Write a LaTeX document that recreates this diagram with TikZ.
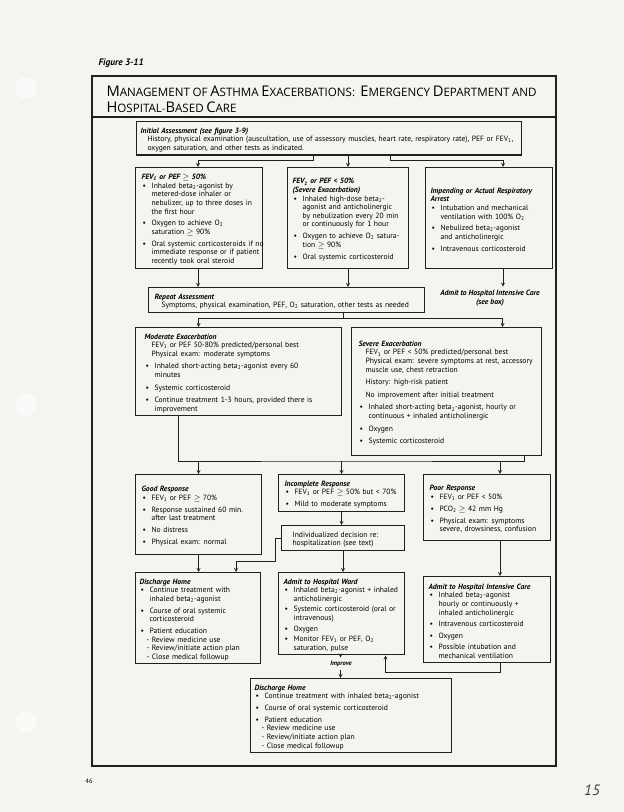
\documentclass[tikz,border=0pt]{standalone}
\usepackage{fontspec}
\setmainfont{PT Sans}
\newfontfamily\titlefont{Open Sans}
\usetikzlibrary{arrows, positioning}

\definecolor{paper}{RGB}{246,244,241}
\definecolor{ink}{RGB}{32,32,32}

\newcommand{\boxfont}{\fontsize{7.6}{8.6}\selectfont}
\newcommand{\lo}[1]{\textsubscript{#1}}
\newcommand{\rr}{\rightskip=-40pt plus 1fil}
\newcommand{\hd}[1]{\par\leftskip=0pt\rr{\bfseries\itshape #1}\par}
\newcommand{\bl}[1][3.2pt]{\par\vspace{#1}\leftskip=10pt\rr\noindent\hskip-10pt\hbox to 10pt{\hskip1pt\textbullet\hfil}\ignorespaces}
\newcommand{\ind}[1][0pt]{\par\vspace{#1}\leftskip=7pt\rr\noindent\ignorespaces}
\newcommand{\dsh}{\par\leftskip=7pt\rr\noindent-\ }
\newcommand{\scw}[2]{{\titlefont\fontsize{14.7}{16}\selectfont #1}{\titlefont\fontsize{11.6}{16}\selectfont #2}}

\begin{document}
\begin{tikzpicture}[
    x=1pt, y=-1pt,
    box/.style={draw=ink, line width=1.1pt, fill=paper, anchor=north west, align=left,
                inner xsep=6pt, inner ysep=3pt, font=\boxfont},
    arrow/.style={draw=ink, line width=0.8pt, ->, >=stealth},
    link/.style={draw=ink, line width=0.8pt},
    lbl/.style={font=\boxfont\bfseries\itshape, align=center}
]

% Page and frame
\fill[paper] (0,0) rectangle (624,812);
\useasboundingbox (0,0) rectangle (624,812);
\foreach \hy in {88, 405, 722}
    \fill[white!55!paper] (26,\hy) circle (11);
\draw[ink, line width=2.2pt] (92,76) rectangle (556,766);
\draw[ink, line width=1.8pt] (92,117) -- (556,117);

\node[anchor=west, font=\fontsize{9.4}{11}\selectfont\bfseries\itshape] (fig) at (95,63) {Figure 3-11};
\node[anchor=base west] (title1) at (103,96) {\scw{M}{ANAGEMENT} \scw{}{OF} \scw{A}{STHMA} \scw{E}{XACERBATIONS:}\ \ \scw{E}{MERGENCY} \scw{D}{EPARTMENT} \scw{}{AND}};
\node[anchor=base west] (title2) at (103,112) {\scw{H}{OSPITAL}-\scw{B}{ASED} \scw{C}{ARE}};
\node[font=\fontsize{6.5}{8}\selectfont] (pgno) at (89,781) {46};
\node[font=\fontsize{15}{16}\selectfont\itshape, text=black!75] (hand) at (592,790) {15};

% Initial assessment
\node[box, inner xsep=4pt, text width=377pt, minimum height=29pt] (init) at (136,121) {%
\hd{Initial Assessment (see figure 3-9)}
\ind History, physical examination (auscultation, use of assessory muscles, heart rate, respiratory rate), PEF or FEV\lo{1},\\
oxygen saturation, and other tests as indicated.\par};

% First treatment row
\node[box, text width=115pt, minimum height=101pt] (mild) at (135,167) {%
\hd{FEV\lo{1} or PEF $\geq$ 50\%}
\bl[0pt] Inhaled beta\lo{2}-agonist by\\ metered-dose inhaler or\\ nebulizer, up to three doses in\\ the first hour
\bl Oxygen to achieve O\lo{2}\\ saturation $\geq$ 90\%
\bl Oral systemic corticosteroids if no\\ immediate response or if patient\\ recently took oral steroid\par};

\node[box, inner xsep=5pt, text width=111pt, minimum height=101pt] (sev1) at (287,167) {%
\hd{FEV\lo{1} or PEF < 50\%\\ (Severe Exacerbation)}
\bl[0pt] Inhaled high-dose beta\lo{2}-\\ agonist and anticholinergic\\ by nebulization every 20 min\\ or continuously for 1 hour
\bl Oxygen to achieve O\lo{2} satura-\\ tion $\geq$ 90\%
\bl Oral systemic corticosteroid\par\vspace{4pt}};

\node[box, inner xsep=5pt, text width=117pt, minimum height=101pt] (arrest) at (425,167) {%
\hd{Impending or Actual Respiratory\\ Arrest}
\bl[0pt] Intubation and mechanical\\ ventilation with 100\% O\lo{2}
\bl Nebulized beta\lo{2}-agonist\\ and anticholinergic
\bl Intravenous corticosteroid\par\vspace{18pt}};

% Repeat assessment
\node[box, text width=264pt, minimum height=23pt] (repeat) at (148,287) {%
\hd{Repeat Assessment}
\ind Symptoms, physical examination, PEF, O\lo{2} saturation, other tests as needed\par};
\node[lbl] (icutxt) at (490,298) {Admit to Hospital Intensive Care\\ (see box)};

% Exacerbation level
\node[box, inner xsep=9pt, text width=188pt, minimum height=87pt] (moderate) at (135,327) {%
\hd{Moderate Exacerbation}
\ind FEV\lo{1} or PEF 50-80\% predicted/personal best\\ Physical exam: moderate symptoms
\bl[4pt] Inhaled short-acting beta\lo{2}-agonist every 60\\ minutes
\bl[4pt] Systemic corticosteroid
\bl[4pt] Continue treatment 1-3 hours, provided there is\\ improvement\par\vspace{8pt}};

\node[box, inner xsep=7pt, text width=176pt, minimum height=128pt] (severe) at (351,327) {%
\hd{Severe Exacerbation}
\ind FEV\lo{1} or PEF < 50\% predicted/personal best\\ Physical exam: severe symptoms at rest, accessory\\ muscle use, chest retraction
\ind[4pt] History: high-risk patient
\ind[4pt] No improvement after initial treatment
\bl[4pt] Inhaled short-acting beta\lo{2}-agonist, hourly or\\ continuous + inhaled anticholinergic
\bl[4pt] Oxygen
\bl[4pt] Systemic corticosteroid\par};

% Response row
\node[box, text width=114pt, minimum height=80pt] (good) at (135,474) {%
\hd{Good Response}
\bl[0pt] FEV\lo{1} or PEF $\geq$ 70\%
\bl Response sustained 60 min.\\ after last treatment
\bl No distress
\bl Physical exam: normal\par};

\node[box, text width=114pt, minimum height=30pt] (partial) at (278,474) {%
\hd{Incomplete Response}
\bl[0pt] FEV\lo{1} or PEF $\geq$ 50\% but < 70\%
\bl Mild to moderate symptoms\par};

\node[box, inner xsep=4pt, text width=115pt, minimum height=22pt] (decide) at (281,525) {%
\ind Individualized decision re:\\ hospitalization (see text)\par};

\node[box, text width=115pt, minimum height=66pt] (poor) at (423,474) {%
\hd{Poor Response}
\bl[0pt] FEV\lo{1} or PEF < 50\%
\bl PCO\lo{2} $\geq$ 42 mm Hg
\bl Physical exam: symptoms\\ severe, drowsiness, confusion\par};

% Disposition row
\node[box, inner xsep=4pt, text width=117pt, minimum height=90pt] (home) at (135,572) {%
\hd{Discharge Home}
\bl[0pt] Continue treatment with\\ inhaled beta\lo{2}-agonist
\bl Course of oral systemic\\ corticosteroid
\bl Patient education
\dsh Review medicine use
\dsh Review/initiate action plan
\dsh Close medical followup\par};

\node[box, inner xsep=5pt, text width=116pt, minimum height=76pt] (ward) at (278,572) {%
\hd{Admit to Hospital Ward}
\bl[0pt] Inhaled beta\lo{2}-agonist + inhaled\\ anticholinergic
\bl[2pt] Systemic corticosteroid (oral or\\ intravenous)
\bl[2pt] Oxygen
\bl[2pt] Monitor FEV\lo{1} or PEF, O\lo{2}\\ saturation, pulse\par};

\node[box, inner xsep=5pt, text width=117pt, minimum height=86pt] (icu) at (423,576) {%
\hd{Admit to Hospital Intensive Care}
\bl[0pt] Inhaled beta\lo{2}-agonist\\ hourly or continuously +\\ inhaled anticholinergic
\bl[3pt] Intravenous corticosteroid
\bl[3pt] Oxygen
\bl[3pt] Possible intubation and\\ mechanical ventilation\par};

\node[lbl, font=\fontsize{6.5}{7}\selectfont\bfseries\itshape] (improve) at (341,664) {Improve};

\node[box, inner xsep=4pt, text width=193pt, minimum height=74pt] (final) at (250,678) {%
\hd{Discharge Home}
\bl[0pt] Continue treatment with inhaled beta\lo{2}-agonist
\bl Course of oral systemic corticosteroid
\bl Patient education
\dsh Review medicine use
\dsh Review/initiate action plan
\dsh Close medical followup\par};

% Connectors
\draw[arrow] ([xshift=-16]init.south) -- ++(0,5) -| ([xshift=-1]mild.north);
\draw[arrow] (sev1.north |- init.south) -- (sev1.north);
\draw[arrow] ([xshift=61]init.south) -- ++(0,5) -| ([xshift=14]arrest.north);
\draw[arrow] ([xshift=-1]mild.south) -- ([xshift=-1]mild.south |- repeat.north);
\draw[arrow] (sev1.south) -- (sev1.south |- repeat.north);
\draw[arrow] ([xshift=14]arrest.south) -- ([xshift=14]arrest.south |- icutxt.north);
\draw[arrow] ([xshift=57]repeat.south) -- ++(0,6) -| ([xshift=-40]moderate.north);
\draw[arrow] ([xshift=57]repeat.south) -- ++(0,6) -| ([xshift=56]severe.north);

\coordinate (merge) at (342,461);
\draw[link] ([xshift=-60]moderate.south) |- (merge) -| ([xshift=78]severe.south);
\draw[arrow] (good.north |- merge) -- (good.north);
\draw[arrow] (partial.north |- merge) -- (partial.north);
\draw[arrow] ([xshift=13]poor.north |- merge) -- ([xshift=13]poor.north);

\draw[arrow] (partial.south) -- (partial.south |- decide.north);
\draw[arrow] (good.south) -- (good.south |- home.north);
\draw[arrow] (decide.west) -- ++(-6,0) -- ++(0,23) -| ([xshift=38]home.north);
\draw[arrow] (decide.south) -- (decide.south |- ward.north);
\draw[arrow] ([xshift=13]poor.south) -- ([xshift=13]poor.south |- icu.north);
\draw[arrow] ([xshift=-1]ward.south) -- ([xshift=-1]ward.south |- improve.north);
\draw[arrow] ([xshift=-1]ward.south |- improve.south) -- ([xshift=-1]ward.south |- final.north);
\draw[arrow] ([xshift=13]icu.south) -- ++(0,9) -| ([xshift=44]ward.south);

\end{tikzpicture}
\end{document}
